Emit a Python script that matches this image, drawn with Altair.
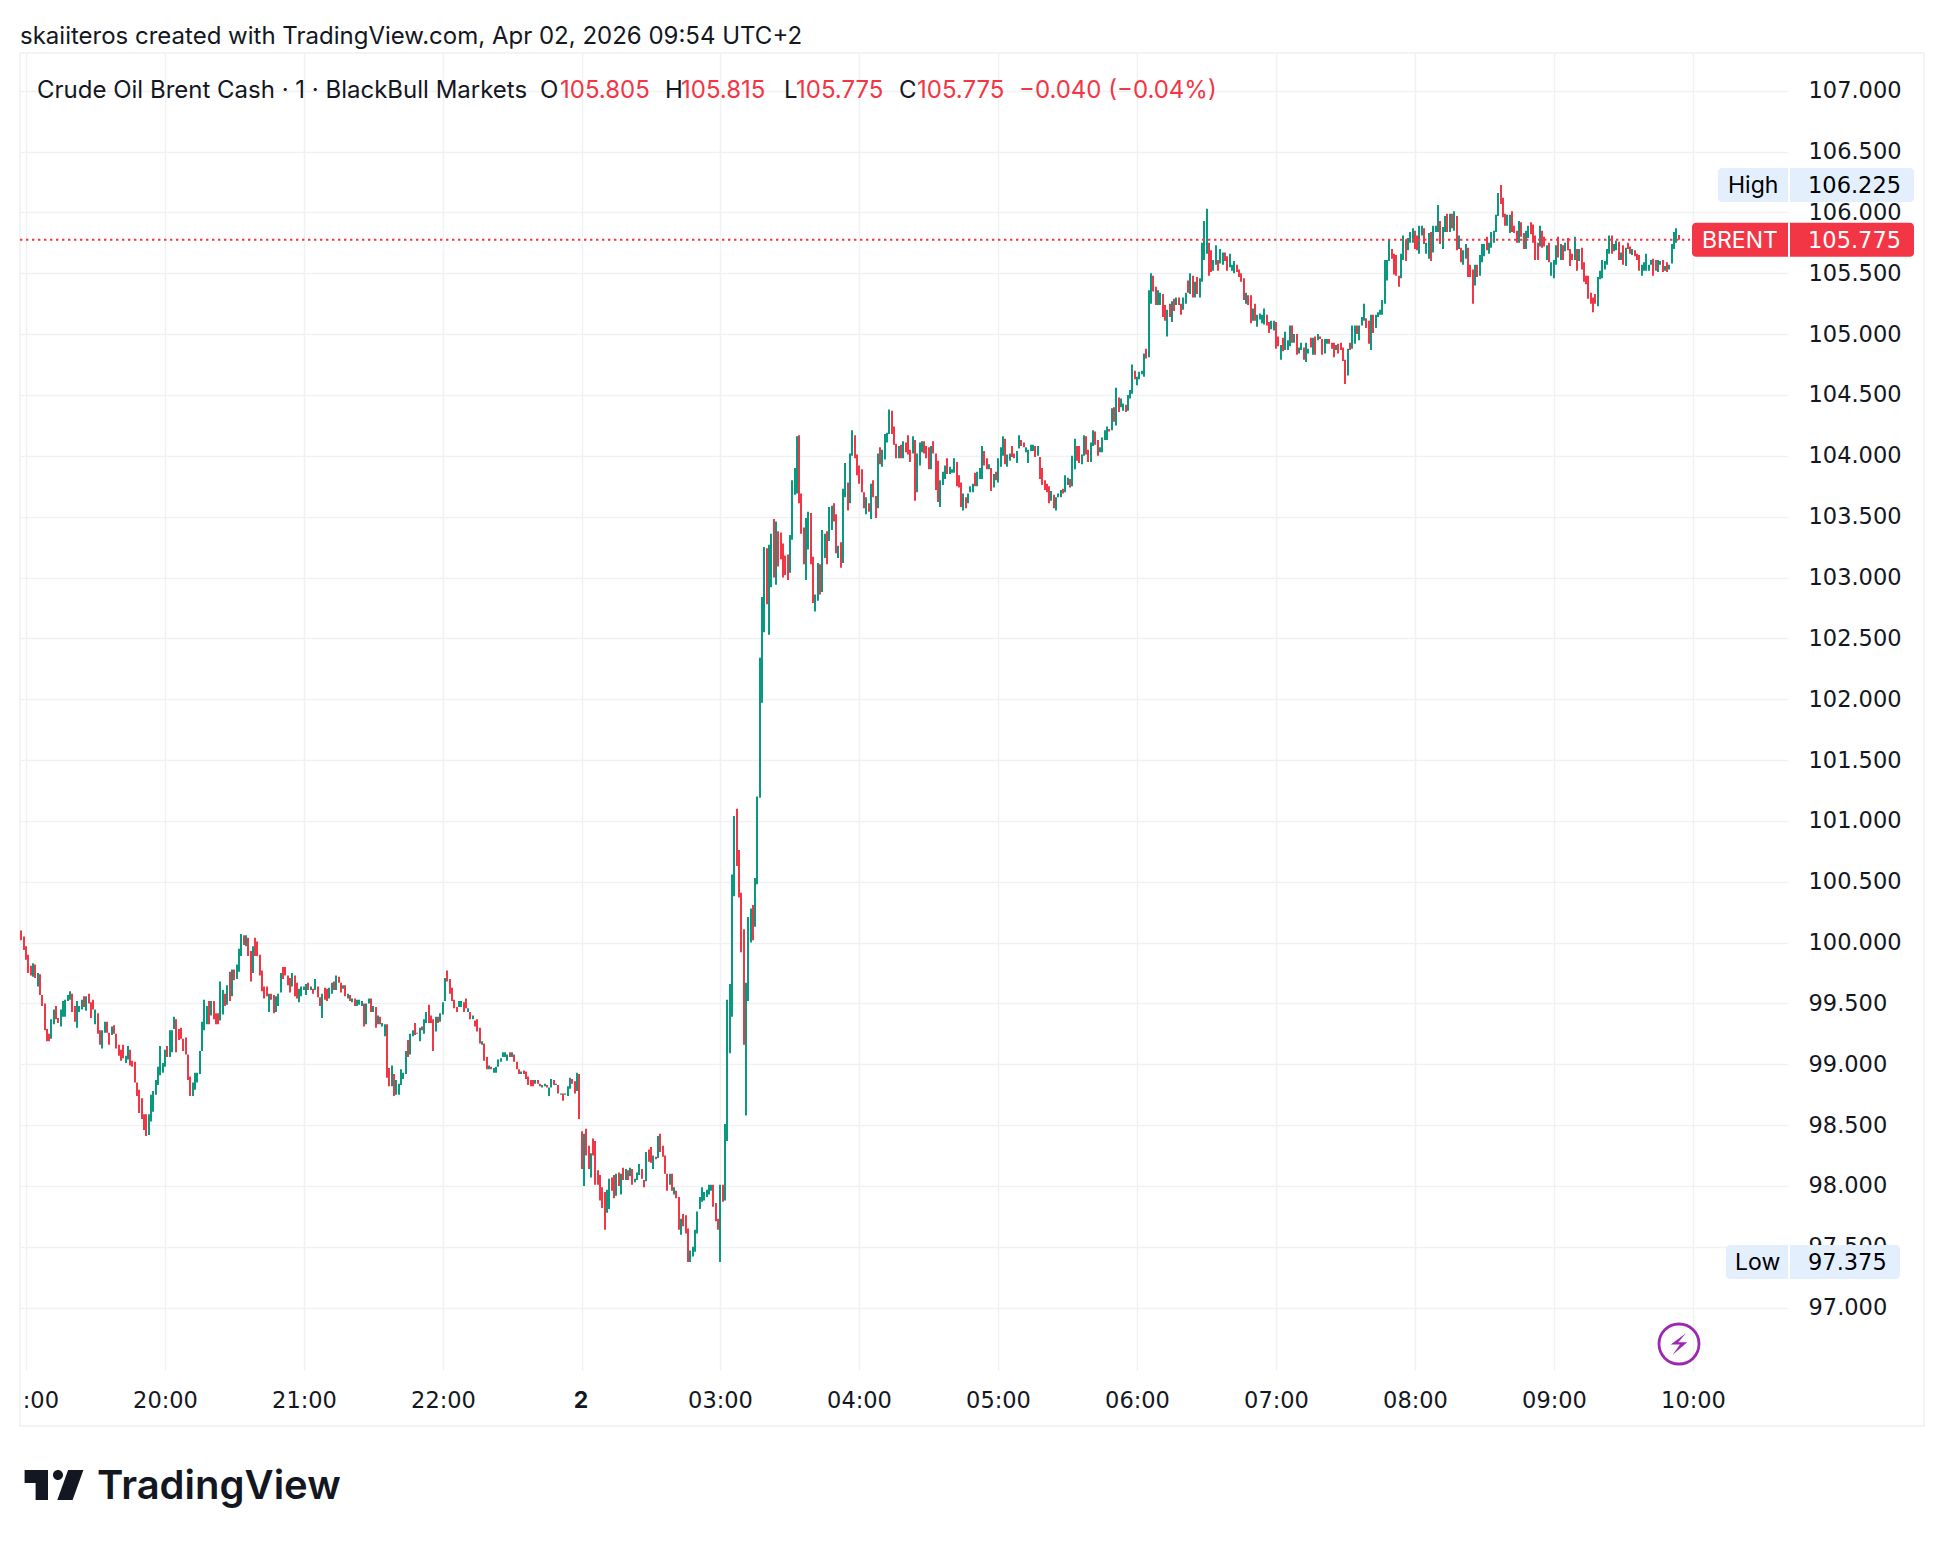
"""Brent 1-minute chart, TradingView snapshot style."""

from __future__ import annotations

import altair as alt
import pandas as pd

GREEN = "#089981"
RED = "#f23645"
INK = "#131722"
GRID = "#f0f1f3"
TAG = "#e3effd"
PURPLE = "#9c27b0"
FONT = "Inter"
AXIS_FONT = "DejaVu Sans"

# minute offsets are counted from the 19:00 bar; the axis has no overnight gap
EVENING_START = -2
evening_high = [
    100.10, 100.05, 99.97, 99.90, 99.81, 99.83, 99.82, 99.75, 99.74, 99.57,
    99.50, 99.29, 99.25, 99.37, 99.45, 99.48, 99.38, 99.45, 99.52, 99.53,
    99.57, 99.60, 99.58, 99.48, 99.52, 99.48, 99.53, 99.56, 99.56, 99.58,
    99.51, 99.53, 99.45, 99.42, 99.28, 99.28, 99.35, 99.35, 99.26, 99.31,
    99.32, 99.25, 99.16, 99.12, 99.16, 99.07, 99.15, 99.12, 99.03, 99.02,
    98.85, 98.79, 98.72, 98.59, 98.59, 98.59, 98.75, 98.78, 98.87, 98.98,
    99.15, 99.01, 99.12, 99.15, 99.28, 99.28, 99.39, 99.37, 99.29, 99.30,
    99.21, 99.22, 99.08, 98.90, 98.85, 98.93, 98.93, 99.11, 99.35, 99.53,
    99.48, 99.52, 99.52, 99.52, 99.42, 99.42, 99.68, 99.61, 99.58, 99.65,
    99.76, 99.78, 99.78, 99.82, 99.95, 100.07, 100.06, 100.06, 100.04, 99.93,
    99.97, 100.04, 100.01, 99.90, 99.77, 99.64, 99.64, 99.58, 99.58, 99.57,
    99.56, 99.58, 99.75, 99.80, 99.80, 99.73, 99.71, 99.75, 99.73, 99.67,
    99.62, 99.64, 99.64, 99.66, 99.67, 99.64, 99.62, 99.70, 99.64, 99.55,
    99.58, 99.63, 99.62, 99.63, 99.67, 99.68, 99.73, 99.72, 99.67, 99.65,
    99.65, 99.58, 99.57, 99.54, 99.54, 99.53, 99.53, 99.52, 99.50, 99.50,
    99.54, 99.54, 99.48, 99.47, 99.40, 99.39, 99.34, 99.33, 99.33, 98.97,
    98.99, 98.92, 98.87, 98.84, 98.96, 98.93, 99.11, 99.20, 99.25, 99.28,
    99.34, 99.26, 99.30, 99.31, 99.37, 99.43, 99.49, 99.40, 99.37, 99.39,
    99.39, 99.42, 99.51, 99.71, 99.77, 99.70, 99.63, 99.53, 99.47, 99.52,
    99.52, 99.51, 99.54, 99.46, 99.43, 99.40, 99.36, 99.37, 99.30, 99.19,
    99.17, 99.06, 98.99, 98.98, 98.97, 98.98, 99.04, 99.05, 99.10, 99.10,
    99.08, 99.10, 99.10, 99.08, 99.02, 98.96, 98.94, 98.95, 98.94, 98.90,
    98.87, 98.87, 98.87, 98.87, 98.84, 98.83, 98.84, 98.83, 98.81, 98.88,
    98.87, 98.84, 98.83, 98.76, 98.76, 98.76, 98.82, 98.89, 98.88, 98.86,
    98.93, 98.92,
]
evening_low = [
    100.02, 99.94, 99.86, 99.75, 99.73, 99.72, 99.71, 99.64, 99.57, 99.48,
    99.28, 99.19, 99.19, 99.21, 99.33, 99.37, 99.34, 99.31, 99.39, 99.39,
    99.52, 99.53, 99.43, 99.35, 99.30, 99.43, 99.45, 99.47, 99.44, 99.50,
    99.38, 99.45, 99.33, 99.25, 99.16, 99.13, 99.26, 99.26, 99.16, 99.24,
    99.25, 99.13, 99.07, 99.03, 99.05, 99.01, 99.04, 98.99, 98.98, 98.85,
    98.74, 98.60, 98.55, 98.46, 98.41, 98.42, 98.53, 98.61, 98.75, 98.83,
    98.91, 98.93, 98.98, 99.06, 99.06, 99.10, 99.29, 99.10, 99.20, 99.21,
    99.11, 99.08, 98.87, 98.74, 98.74, 98.79, 98.85, 98.92, 99.11, 99.28,
    99.33, 99.33, 99.40, 99.37, 99.33, 99.33, 99.36, 99.41, 99.48, 99.49,
    99.52, 99.56, 99.69, 99.70, 99.76, 99.89, 99.98, 99.97, 99.89, 99.68,
    99.75, 99.89, 99.89, 99.73, 99.60, 99.54, 99.56, 99.43, 99.53, 99.42,
    99.43, 99.48, 99.59, 99.70, 99.73, 99.65, 99.59, 99.64, 99.56, 99.54,
    99.51, 99.56, 99.61, 99.57, 99.61, 99.61, 99.58, 99.61, 99.55, 99.48,
    99.38, 99.53, 99.52, 99.54, 99.58, 99.61, 99.61, 99.67, 99.59, 99.62,
    99.56, 99.54, 99.52, 99.51, 99.48, 99.48, 99.49, 99.48, 99.31, 99.33,
    99.50, 99.43, 99.43, 99.30, 99.33, 99.33, 99.31, 99.23, 98.89, 98.82,
    98.82, 98.74, 98.75, 98.75, 98.83, 98.88, 98.92, 99.06, 99.08, 99.23,
    99.24, 99.25, 99.19, 99.28, 99.25, 99.34, 99.34, 99.34, 99.11, 99.27,
    99.34, 99.35, 99.41, 99.52, 99.68, 99.58, 99.52, 99.46, 99.43, 99.47,
    99.47, 99.43, 99.46, 99.43, 99.37, 99.37, 99.31, 99.27, 99.17, 99.16,
    99.03, 98.96, 98.96, 98.96, 98.93, 98.93, 98.98, 99.02, 99.06, 99.06,
    99.03, 99.06, 99.06, 99.02, 98.96, 98.92, 98.92, 98.92, 98.88, 98.83,
    98.82, 98.82, 98.84, 98.84, 98.82, 98.81, 98.82, 98.81, 98.74, 98.81,
    98.83, 98.83, 98.76, 98.75, 98.70, 98.75, 98.74, 98.80, 98.84, 98.76,
    98.78, 98.55,
]
evening_side = (
    "DDDDDUDUDD" "DDDUUDDUUU" "UUDDUUUDUD" "DDUDDUUDDU" "DDDDDUUDDD"
    "DDDDDUUUUU" "UUUDUUUDDD" "DDDDUUUUUU" "UDUDDDUUDU" "DUDUUUDUDD"
    "UDDDDDDUDD" "UUUDDDDUDD" "UUUUDUDUDD" "UDDUUDUDDU" "DUDUDUUUDU"
    "UDUDUDUUDD" "UDUUUUUDUU" "DDUDUUDDDU" "DUUUDDDDDU" "UDDUDUDDDU"
    "DDUDUUUUUU" "UDUDDDUDDD" "DDUDDUUDUU" "DUDUDUUUDD" "UD"
)

SESSION_START = 240
session_high = [
    98.45, 98.43, 98.47, 98.33, 98.27, 98.39, 98.37, 98.13, 98.09, 97.99,
    97.95, 97.97, 98.06, 98.07, 98.09, 98.10, 98.11, 98.10, 98.15, 98.14,
    98.13, 98.15, 98.14, 98.06, 98.11, 98.18, 98.14, 98.05, 98.28, 98.30,
    98.32, 98.25, 98.24, 98.41, 98.43, 98.33, 98.25, 98.10, 98.10, 98.10,
    97.99, 97.96, 97.91, 97.73, 97.77, 97.76, 97.65, 97.47, 97.50, 97.64,
    97.79, 97.91, 97.99, 97.95, 97.97, 98.01, 98.01, 98.01, 97.86, 97.73,
    98.01, 98.01, 98.51, 99.53, 99.66, 100.56, 101.04, 101.10, 100.76, 100.41,
    100.11, 99.67, 100.21, 100.28, 100.31, 100.53, 101.20, 102.34, 102.84, 103.25,
    103.24, 103.27, 103.36, 103.48, 103.46, 103.38, 103.37, 103.28, 103.18, 103.19,
    103.35, 103.80, 103.90, 104.16, 104.17, 103.69, 103.41, 103.49, 103.54, 103.53,
    103.17, 102.86, 103.12, 103.11, 103.39, 103.36, 103.38, 103.58, 103.59, 103.61,
    103.52, 103.26, 103.29, 103.73, 103.94, 103.78, 104.02, 104.21, 104.17, 104.01,
    103.92, 103.89, 103.70, 103.66, 103.61, 103.77, 103.80, 103.67, 104.02, 104.07,
    104.05, 104.18, 104.19, 104.38, 104.37, 104.24, 104.10, 104.08, 104.09, 104.12,
    104.11, 104.17, 104.05, 104.16, 104.13, 104.02, 104.11, 104.12, 104.12, 104.08,
    104.07, 104.08, 104.12, 104.02, 103.96, 103.80, 103.87, 103.92, 103.98, 103.91,
    103.89, 103.98, 103.95, 103.84, 103.78, 103.69, 103.66, 103.69, 103.75, 103.77,
    103.86, 103.87, 103.90, 104.08, 104.04, 103.98, 103.93, 103.90, 103.85, 103.87,
    103.98, 104.07, 104.16, 104.14, 104.01, 104.02, 104.08, 104.02, 104.04, 104.17,
    104.13, 104.11, 104.07, 104.05, 104.09, 104.09, 104.08, 104.08, 103.99, 103.90,
    103.80, 103.77, 103.75, 103.71, 103.68, 103.66, 103.69, 103.72, 103.73, 103.84,
    103.82, 103.81, 104.00, 104.14, 104.08, 104.08, 104.01, 104.17, 104.16, 104.05,
    104.11, 104.21, 104.20, 104.13, 104.07, 104.15, 104.21, 104.24, 104.22, 104.39,
    104.40, 104.56, 104.48, 104.47, 104.43, 104.42, 104.50, 104.54, 104.75, 104.70,
    104.65, 104.69, 104.70, 104.84, 104.88, 105.36, 105.50, 105.48, 105.39, 105.36,
    105.34, 105.33, 105.24, 105.20, 105.25, 105.27, 105.29, 105.30, 105.30, 105.25,
    105.30, 105.34, 105.44, 105.50, 105.48, 105.43, 105.47, 105.46, 105.75, 105.93,
    106.03, 105.75, 105.69, 105.61, 105.73, 105.61, 105.70, 105.67, 105.67, 105.64,
    105.66, 105.57, 105.60, 105.57, 105.53, 105.50, 105.46, 105.34, 105.32, 105.32,
    105.21, 105.25, 105.16, 105.17, 105.16, 105.21, 105.16, 105.10, 105.11, 105.11,
    105.10, 104.98, 104.91, 104.97, 105.02, 104.95, 105.07, 105.07, 105.00, 105.00,
    104.89, 104.93, 104.89, 104.93, 104.88, 104.97, 104.97, 104.98, 105.00, 104.98,
    104.96, 104.96, 104.96, 104.96, 104.93, 104.93, 104.91, 104.92, 104.93, 104.89,
    104.79, 104.88, 104.93, 105.07, 105.07, 105.07, 105.07, 105.14, 105.25, 105.13,
    105.11, 105.16, 105.16, 105.16, 105.18, 105.20, 105.28, 105.61, 105.61, 105.78,
    105.70, 105.66, 105.65, 105.48, 105.66, 105.81, 105.78, 105.79, 105.84, 105.87,
    105.85, 105.81, 105.89, 105.89, 105.87, 105.75, 105.83, 105.84, 105.89, 105.89,
    106.06, 105.93, 105.88, 105.97, 105.99, 105.99, 105.99, 106.01, 105.97, 105.81,
    105.71, 105.69, 105.74, 105.71, 105.57, 105.53, 105.57, 105.57, 105.65, 105.74,
    105.74, 105.80, 105.75, 105.84, 105.85, 105.98, 106.16, 106.225, 106.12, 105.99,
    105.98, 105.98, 106.01, 105.89, 105.85, 105.93, 105.92, 105.83, 105.85, 105.89,
    105.92, 105.90, 105.81, 105.75, 105.89, 105.85, 105.80, 105.73, 105.75, 105.59,
    105.61, 105.73, 105.80, 105.74, 105.73, 105.75, 105.79, 105.70, 105.66, 105.80,
    105.70, 105.70, 105.71, 105.59, 105.48, 105.48, 105.34, 105.30, 105.33, 105.47,
    105.52, 105.61, 105.60, 105.70, 105.81, 105.81, 105.74, 105.77, 105.76, 105.67,
    105.73, 105.71, 105.75, 105.72, 105.70, 105.69, 105.66, 105.65, 105.57, 105.59,
    105.66, 105.57, 105.61, 105.62, 105.61, 105.61, 105.60, 105.61, 105.56, 105.59,
    105.57, 105.74, 105.84, 105.87, 105.815,
]
session_low = [
    98.14, 98.00, 98.25, 98.14, 98.07, 98.25, 98.01, 98.01, 97.88, 97.82,
    97.64, 97.78, 97.81, 97.96, 97.90, 97.92, 98.00, 97.93, 98.05, 98.05,
    98.05, 98.08, 98.01, 98.03, 98.05, 98.09, 98.06, 97.99, 98.04, 98.20,
    98.19, 98.14, 98.22, 98.23, 98.28, 98.24, 98.10, 97.96, 98.01, 97.96,
    97.93, 97.90, 97.64, 97.60, 97.67, 97.61, 97.375, 97.375, 97.42, 97.46,
    97.61, 97.81, 97.87, 97.88, 97.91, 97.93, 97.96, 97.83, 97.71, 97.64,
    97.375, 97.87, 97.88, 98.37, 99.09, 99.39, 100.38, 100.63, 100.37, 99.92,
    99.16, 98.58, 99.52, 100.00, 100.02, 100.13, 100.48, 101.19, 101.97, 102.55,
    102.78, 102.53, 102.92, 103.00, 102.94, 103.09, 103.15, 103.00, 103.02, 102.98,
    103.04, 103.31, 103.68, 103.69, 103.61, 103.36, 103.11, 102.98, 103.23, 103.11,
    102.79, 102.72, 102.81, 102.86, 102.88, 103.16, 103.11, 103.30, 103.39, 103.46,
    103.20, 103.16, 103.08, 103.12, 103.66, 103.55, 103.61, 104.00, 103.98, 103.84,
    103.77, 103.70, 103.57, 103.52, 103.54, 103.48, 103.66, 103.49, 103.57, 103.93,
    103.91, 103.97, 104.11, 104.18, 104.18, 104.09, 103.98, 103.98, 103.98, 103.98,
    104.03, 104.01, 103.95, 104.02, 103.63, 103.70, 103.92, 104.03, 104.02, 103.98,
    103.89, 103.89, 104.02, 103.72, 103.62, 103.58, 103.76, 103.81, 103.85, 103.85,
    103.86, 103.86, 103.75, 103.74, 103.58, 103.55, 103.57, 103.61, 103.70, 103.70,
    103.75, 103.75, 103.81, 103.81, 103.92, 103.89, 103.89, 103.71, 103.74, 103.80,
    103.78, 103.91, 104.00, 103.93, 103.91, 103.96, 103.99, 103.98, 103.94, 104.06,
    104.08, 104.07, 104.03, 103.94, 104.04, 104.04, 103.99, 104.00, 103.81, 103.76,
    103.72, 103.70, 103.61, 103.63, 103.57, 103.55, 103.66, 103.66, 103.69, 103.70,
    103.76, 103.74, 103.75, 103.89, 103.96, 103.94, 103.93, 104.00, 104.01, 103.95,
    103.95, 104.08, 104.09, 104.00, 104.03, 104.03, 104.13, 104.13, 104.20, 104.21,
    104.28, 104.25, 104.36, 104.40, 104.37, 104.36, 104.37, 104.47, 104.51, 104.63,
    104.58, 104.63, 104.67, 104.65, 104.80, 104.81, 105.25, 105.35, 105.24, 105.24,
    105.24, 105.14, 105.11, 104.98, 105.14, 105.10, 105.19, 105.24, 105.24, 105.16,
    105.20, 105.25, 105.34, 105.33, 105.30, 105.30, 105.33, 105.30, 105.43, 105.61,
    105.66, 105.48, 105.51, 105.52, 105.57, 105.52, 105.58, 105.57, 105.60, 105.52,
    105.55, 105.52, 105.50, 105.51, 105.47, 105.43, 105.28, 105.25, 105.24, 105.09,
    105.11, 105.11, 105.06, 105.12, 105.09, 105.08, 105.07, 105.01, 105.04, 105.03,
    104.88, 104.90, 104.79, 104.86, 104.87, 104.87, 104.90, 104.93, 104.93, 104.83,
    104.84, 104.87, 104.79, 104.77, 104.84, 104.89, 104.83, 104.83, 104.95, 104.96,
    104.83, 104.84, 104.92, 104.92, 104.88, 104.81, 104.87, 104.84, 104.87, 104.78,
    104.59, 104.66, 104.87, 104.88, 104.92, 105.00, 104.95, 105.07, 105.11, 105.05,
    104.92, 104.87, 105.01, 105.05, 105.14, 105.16, 105.16, 105.25, 105.44, 105.60,
    105.62, 105.49, 105.48, 105.39, 105.46, 105.61, 105.60, 105.69, 105.75, 105.75,
    105.70, 105.69, 105.66, 105.81, 105.74, 105.66, 105.62, 105.60, 105.67, 105.84,
    105.84, 105.74, 105.70, 105.84, 105.84, 105.84, 105.87, 105.85, 105.69, 105.70,
    105.59, 105.57, 105.62, 105.47, 105.47, 105.25, 105.40, 105.47, 105.48, 105.59,
    105.64, 105.69, 105.66, 105.71, 105.75, 105.84, 105.97, 106.07, 105.96, 105.89,
    105.89, 105.83, 105.84, 105.83, 105.75, 105.75, 105.80, 105.70, 105.70, 105.79,
    105.82, 105.75, 105.61, 105.61, 105.72, 105.71, 105.72, 105.61, 105.59, 105.48,
    105.46, 105.57, 105.63, 105.61, 105.61, 105.68, 105.69, 105.56, 105.61, 105.61,
    105.52, 105.60, 105.53, 105.43, 105.41, 105.29, 105.25, 105.18, 105.25, 105.23,
    105.45, 105.46, 105.53, 105.57, 105.66, 105.66, 105.68, 105.69, 105.61, 105.61,
    105.57, 105.56, 105.70, 105.66, 105.65, 105.64, 105.61, 105.52, 105.48, 105.52,
    105.52, 105.52, 105.57, 105.48, 105.52, 105.51, 105.57, 105.51, 105.52, 105.51,
    105.53, 105.58, 105.70, 105.75, 105.775,
]
session_side = (
    "DUDDUDDDDD" "DUUDDUDUDU" "DUDUUUDDUD" "DUDUDDDDUD" "UDDUDDDUUU" "UUUUUUUDDD"
    "UDUUUUUDDD" "DUUUDUUUUU" "DUUDUDDDDD" "UUUUDDDUUD" "DUUDUUDUUD" "DUDUUDUUDD"
    "DDDUDUDDUD" "UUUUDDDUDU" "DDDUDUUUDD" "DUDDDUUUDU" "UUDDDUDUUU" "DUUUDDUDUD"
    "UUUDUUDDUU" "DDUUUUDUDD" "DDDUDUUUDU" "UDUUDDUUDD" "UUDDUUUUDU" "DUDUUDUUUD"
    "UUUUDUUDDU" "UDDUDUDUDD" "UUDUDUDUUU" "UDDUUDUUDD" "UUUDDDDUDD" "UDUUUUDDUU"
    "DDUDUUUDUD" "UUDUUDUDUD" "DUUDDDUDDD" "DUDUUDUUUD" "DUDUUUUUUU" "DDDDUUDUUU"
    "DDUUDUUDUU" "UDUUDUDUDU" "DUUDDDUDUU" "UDUUUUUDDD" "UUDDDUDDUU" "DDDDUDDUDU"
    "UUDUDUDDDU" "DUDDDDDDDU" "UUUUUDUUDU" "DUDDUDDDUU" "UUUDDUUDUD" "UUUUD"
)

hour_ticks = [0, 60, 120, 180, 240, 300, 360, 420, 480, 540, 600, 660, 720]
hour_labels = ["", "20:00", "21:00", "22:00", "", "03:00", "04:00", "05:00",
               "06:00", "07:00", "08:00", "09:00", "10:00"]
price_ticks = [97 + 0.5 * k for k in range(21)]

LAST = 105.775
HIGH = 106.225
LOW = 97.375

# page pixels of the plot frame
LEFT, TOP = 20, 53
WIDTH, HEIGHT = 1768, 1317


def px(x):
    return x - LEFT


def py(y):
    return y - TOP


def text(label, x, y, color=INK, size=24, weight=400, align="left", font=FONT):
    return (
        alt.Chart(pd.DataFrame({"t": [label]}))
        .mark_text(font=font, fontSize=size, fontWeight=weight, align=align, baseline="middle", color=color)
        .encode(text="t:N", x=alt.value(px(x)), y=alt.value(py(y)))
    )


rows = []
for start, hi, lo, side in [
    (EVENING_START, evening_high, evening_low, evening_side),
    (SESSION_START, session_high, session_low, session_side),
]:
    rows.append(pd.DataFrame({"minute": range(start, start + len(hi)), "high": hi, "low": lo, "side": list(side)}))
bars = pd.concat(rows)

x_scale = alt.Scale(domain=[-2.6, 761.2], nice=False, zero=False, padding=0, round=True)
y_scale = alt.Scale(domain=[96.488, 107.31], nice=False, zero=False)
label_map = ",".join(f"'{t}':'{l}'" for t, l in zip(hour_ticks, hour_labels))
x_axis = alt.Axis(
    values=hour_ticks, labelExpr="{" + label_map + "}[datum.value]", title=None, domain=False, ticks=False,
    grid=True, gridColor=GRID, gridWidth=1.5, labelFont=AXIS_FONT, labelFontSize=22.5, labelColor=INK,
    labelPadding=19, labelOverlap=False, labelFlush=False,
)
y_axis = alt.Axis(
    values=price_ticks, format=".3f", orient="right", title=None, domain=False, ticks=False,
    grid=True, gridColor=GRID, gridWidth=1.5, labelFont=AXIS_FONT, labelFontSize=22.5, labelColor=INK,
    labelPadding=20, labelAlign="left", labelOverlap=False, labelFlush=False,
)
y_price = alt.Y("price:Q", scale=y_scale, axis=y_axis)

frame = alt.Chart(pd.DataFrame({"a": [0]})).mark_rect(fillOpacity=0, stroke="#f0f0f0", strokeWidth=1.5).encode(
    x=alt.value(0), x2=alt.value(1904), y=alt.value(0), y2=alt.value(1373)
)

candles = (
    alt.Chart(bars)
    .mark_bar(size=2)
    .encode(
        x=alt.X("minute:Q", scale=x_scale, axis=x_axis),
        y=alt.Y("low:Q", scale=y_scale, axis=y_axis),
        y2="high:Q",
        color=alt.Color("side:N", scale=alt.Scale(domain=["U", "D"], range=[GREEN, RED]), legend=None),
    )
)

price_line = (
    alt.Chart(pd.DataFrame({"price": [LAST]}))
    .mark_rule(color=RED, strokeWidth=2, strokeDash=[2.4, 3.6])
    .encode(y=y_price, x=alt.value(0), x2=alt.value(px(1690)))
)


def tag(price, x0, x1, fill, round_left):
    corners = (
        {"cornerRadiusTopLeft": 4, "cornerRadiusBottomLeft": 4}
        if round_left
        else {"cornerRadiusTopRight": 4, "cornerRadiusBottomRight": 4}
    )
    return (
        alt.Chart(pd.DataFrame({"price": [price]}))
        .mark_rect(height=34, color=fill, **corners)
        .encode(y=y_price, x=alt.value(px(x0)), x2=alt.value(px(x1)))
    )


def tag_text(label, price, x, color, font=FONT, size=23):
    return (
        alt.Chart(pd.DataFrame({"price": [price], "t": [label]}))
        .mark_text(font=font, fontSize=size, align="left", baseline="middle", color=color, dy=1)
        .encode(y=y_price, x=alt.value(px(x)), text="t:N")
    )


layers = [
    frame,
    candles,
    price_line,
    tag(HIGH, 1718, 1788, TAG, True),
    tag(HIGH, 1790, 1914, TAG, False),
    tag(LAST, 1692, 1788, RED, True),
    tag(LAST, 1790, 1914, RED, False),
    tag(LOW, 1726, 1788, TAG, True),
    tag(LOW, 1790, 1900, TAG, False),
    tag_text("High", HIGH, 1728, "#000000"),
    tag_text(f"{HIGH:.3f}", HIGH, 1808, "#000000", AXIS_FONT, 22.5),
    tag_text("BRENT", LAST, 1702, "#ffffff"),
    tag_text(f"{LAST:.3f}", LAST, 1808, "#ffffff", AXIS_FONT, 22.5),
    tag_text("Low", LOW, 1735, "#000000"),
    tag_text(f"{LOW:.3f}", LOW, 1808, "#000000", AXIS_FONT, 22.5),
    text("skaiiteros created with TradingView.com, Apr 02, 2026 09:54 UTC+2", 20, 37),
    text("Crude Oil Brent Cash · 1 · BlackBull Markets", 37, 91),
    text("O", 540, 91),
    text("105.805", 560, 91, RED),
    text("H", 665, 91),
    text("105.815", 681, 91, RED),
    text("L", 784, 91),
    text("105.775", 796, 91, RED),
    text("C", 899, 91),
    text("105.775", 917, 91, RED),
    text("−0.040 (−0.04%)", 1019, 91, RED),
    text(":00", 59, 1401, INK, 22.5, align="right", font=AXIS_FONT),
    text("2", 581, 1401, INK, 23, weight=700, align="center"),
    text("TradingView", 97, 1487, "#131722", 40, weight=600),
]

logo = (
    alt.Chart(pd.DataFrame({"a": [0]}))
    .mark_point(
        shape=(
            "M-0.98,-0.5 L-0.2,-0.5 L-0.2,0.5 L-0.613,0.5 L-0.613,-0.07 L-0.98,-0.07 Z "
            "M0.47,-0.5 L0.98,-0.5 L0.62,0.5 L0.11,0.5 Z "
            "M-0.034,-0.333 A0.167,0.167 0 1,0 0.3,-0.333 A0.167,0.167 0 1,0 -0.034,-0.333 Z"
        ),
        size=3600, filled=True, color="#131722", opacity=1,
    )
    .encode(x=alt.value(px(54)), y=alt.value(py(1485)))
)
ring = (
    alt.Chart(pd.DataFrame({"a": [0]}))
    .mark_point(shape="circle", size=1600, filled=False, color=PURPLE, strokeWidth=2.8, opacity=1)
    .encode(x=alt.value(px(1679)), y=alt.value(py(1344)))
)
bolt = (
    alt.Chart(pd.DataFrame({"a": [0]}))
    .mark_point(
        shape="M0.58,-0.89 L-0.69,0.05 L0.08,0.05 L-0.53,0.89 L0.69,-0.14 L-0.06,-0.14 Z",
        size=576, filled=True, color=PURPLE, opacity=1,
    )
    .encode(x=alt.value(px(1679)), y=alt.value(py(1344)))
)

chart = (
    alt.layer(*layers, logo, ring, bolt)
    .properties(
        width=WIDTH,
        height=HEIGHT,
        autosize=alt.AutoSizeParams(type="none"),
        padding={"left": 12, "top": 45, "right": 140, "bottom": 150},
        background="#ffffff",
    )
    .configure_view(stroke=None)
)

chart.save("out.html", embed_options={"renderer": "svg", "actions": False})
